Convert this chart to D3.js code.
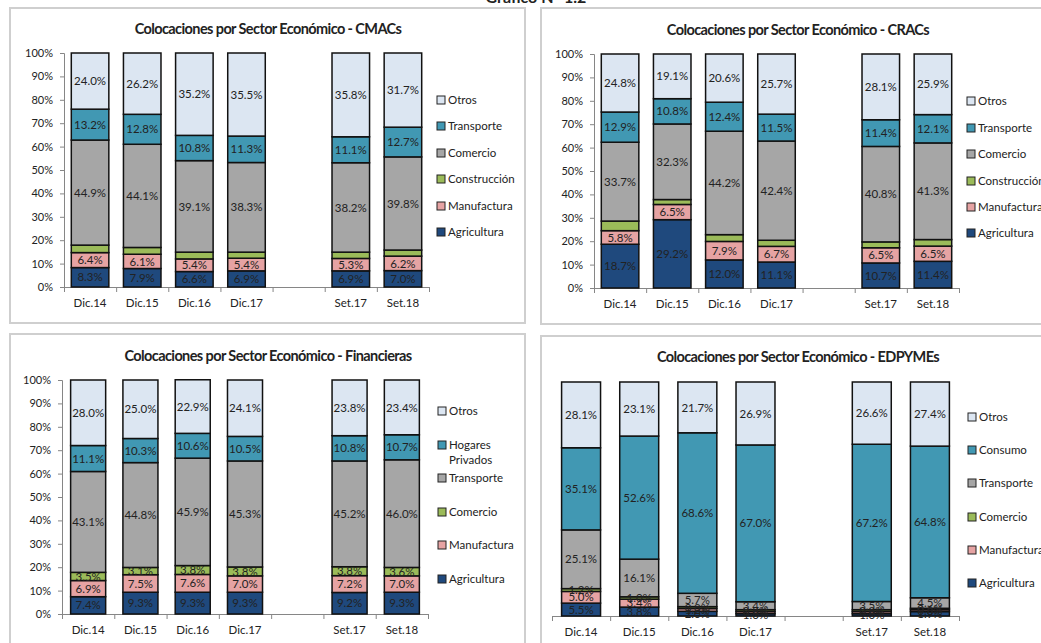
<!DOCTYPE html>
<html>
<head>
<meta charset="utf-8">
<script src="https://cdn.jsdelivr.net/npm/d3@7"></script>
<style>
  body { margin: 0; background: #fff; }
  svg text { font-family: Lato, "Open Sans", sans-serif; fill: #222; }
</style>
</head>
<body>
<svg id="the_chart" width="1041" height="643"></svg>
<script>
// periods (the empty slot is the gap between Dic.17 and Set.17)
var periods = ["Dic.14", "Dic.15", "Dic.16", "Dic.17", "Set.17", "Set.18"];
var slots = ["Dic.14", "Dic.15", "Dic.16", "Dic.17", "gap", "Set.17", "Set.18"];

// CMACs
var cmacAgricultura = [8.3, 7.9, 6.6, 6.9, 6.9, 7.0];
var cmacManufactura = [6.4, 6.1, 5.4, 5.4, 5.3, 6.2];
var cmacConstruccion = [3.2, 2.9, 2.9, 2.6, 2.7, 2.6];
var cmacComercio = [44.9, 44.1, 39.1, 38.3, 38.2, 39.8];
var cmacTransporte = [13.2, 12.8, 10.8, 11.3, 11.1, 12.7];
var cmacOtros = [24.0, 26.2, 35.2, 35.5, 35.8, 31.7];

// CRACs
var cracAgricultura = [18.7, 29.2, 12.0, 11.1, 10.7, 11.4];
var cracManufactura = [5.8, 6.5, 7.9, 6.7, 6.5, 6.5];
var cracConstruccion = [4.1, 2.1, 2.9, 2.6, 2.5, 2.8];
var cracComercio = [33.7, 32.3, 44.2, 42.4, 40.8, 41.3];
var cracTransporte = [12.9, 10.8, 12.4, 11.5, 11.4, 12.1];
var cracOtros = [24.8, 19.1, 20.6, 25.7, 28.1, 25.9];

// Financieras
var finAgricultura = [7.4, 9.3, 9.3, 9.3, 9.2, 9.3];
var finManufactura = [6.9, 7.5, 7.6, 7.0, 7.2, 7.0];
var finComercio = [3.5, 3.1, 3.8, 3.8, 3.8, 3.6];
var finTransporte = [43.1, 44.8, 45.9, 45.3, 45.2, 46.0];
var finHogares = [11.1, 10.3, 10.6, 10.5, 10.8, 10.7];
var finOtros = [28.0, 25.0, 22.9, 24.1, 23.8, 23.4];

// EDPYMEs
var edpAgricultura = [5.5, 3.8, 2.0, 1.0, 1.0, 1.9];
var edpManufactura = [5.0, 3.4, 1.2, 0.9, 0.9, 0.8];
var edpComercio = [1.2, 1.0, 0.8, 0.8, 0.8, 0.6];
var edpTransporte = [25.1, 16.1, 5.7, 3.4, 3.5, 4.5];
var edpConsumo = [35.1, 52.6, 68.6, 67.0, 67.2, 64.8];
var edpOtros = [28.1, 23.1, 21.7, 26.9, 26.6, 27.4];

var colors = ["#1f497d", "#e6a3a3", "#9bbb59", "#a6a6a6", "#4198b3", "#dce6f2"];

var svg = d3.select("#the_chart");

// panel frames
var frames = [[10, 8, 515, 315], [541, 8, 520, 316], [10, 334, 515, 320], [541, 336, 520, 320]];
svg.selectAll("rect.frame")
    .data(frames)
    .enter().append("rect")
    .attr("class", "frame")
    .attr("x", function(d) { return d[0]; })
    .attr("y", function(d) { return d[1]; })
    .attr("width", function(d) { return d[2]; })
    .attr("height", function(d) { return d[3]; })
    .attr("fill", "none")
    .attr("stroke", "#cfcfcf")
    .attr("stroke-width", 2);

svg.append("text")
    .attr("x", 536).attr("y", 3)
    .attr("text-anchor", "middle")
    .style("font-weight", 700).style("font-size", "16px")
    .text("Gráfico N° 1.2");

function drawPanel(cfg) {
    var g = svg.append("g");
    var keys = cfg.names;
    var rows = periods.map(function(p, i) {
        var r = {period: p};
        keys.forEach(function(k, j) { r[k] = cfg.values[j][i] / 100; });
        return r;
    });
    var stacked = d3.stack().keys(keys)(rows);

    var x = d3.scaleBand().domain(slots)
        .range([cfg.x0, cfg.x1])
        .paddingInner(1 - cfg.barRatio)
        .paddingOuter((1 - cfg.barRatio) / 2);
    var y = d3.scaleLinear().domain([0, 1]).range([cfg.y0, cfg.y1]);

    g.append("text")
        .attr("x", cfg.titleX).attr("y", cfg.titleY)
        .attr("text-anchor", "middle")
        .style("font-weight", 700).style("font-size", "14.5px")
        .style("letter-spacing", "-0.6px")
        .text(cfg.title);

    if (cfg.yAxis) {
        var yaxis = d3.axisLeft(y)
            .tickValues(d3.range(0, 1.01, 0.1))
            .tickFormat(d3.format(".0%"))
            .tickSize(4).tickPadding(7);
        var ya = g.append("g")
            .attr("transform", "translate(" + cfg.x0 + ",0)")
            .call(yaxis);
        ya.selectAll("path, line").attr("stroke", "#868686");
        ya.selectAll("text").style("font-size", "11px").style("font-family", "Lato").attr("fill", "#222");
    }

    // boundary ticks on the category axis
    var bscale = d3.scaleLinear().domain([0, slots.length]).range([cfg.x0, cfg.x1]);
    var xb = g.append("g")
        .attr("transform", "translate(0," + cfg.y0 + ")")
        .call(d3.axisBottom(bscale).ticks(slots.length).tickFormat("").tickSize(5).tickSizeOuter(5));
    xb.selectAll("path, line").attr("stroke", "#868686");

    var xl = g.append("g")
        .attr("transform", "translate(0," + cfg.y0 + ")")
        .call(d3.axisBottom(x).tickSize(0).tickPadding(12)
            .tickFormat(function(d) { return d == "gap" ? "" : d; }));
    xl.select(".domain").remove();
    xl.selectAll("text").style("font-size", "11.5px").style("font-family", "Lato").attr("fill", "#222");

    stacked.forEach(function(layer, j) {
        var lg = g.append("g");
        lg.selectAll("rect")
            .data(layer)
            .enter().append("rect")
            .attr("x", function(d) { return x(d.data.period); })
            .attr("width", x.bandwidth())
            .attr("y", function(d) { return y(d[1]); })
            .attr("height", function(d) { return y(d[0]) - y(d[1]); })
            .attr("fill", colors[cfg.colorIdx[j]])
            .attr("stroke", "#111")
            .attr("stroke-width", 1.5);
    });
    stacked.forEach(function(layer, j) {
        if (!cfg.labels[j]) return;
        g.append("g").selectAll("text")
            .data(layer)
            .enter().append("text")
            .attr("x", function(d) { return x(d.data.period) + x.bandwidth() / 2; })
            .attr("y", function(d) { return (y(d[0]) + y(d[1])) / 2; })
            .attr("dy", "0.36em")
            .attr("text-anchor", "middle")
            .style("font-size", "11.5px")
            .text(function(d) { return d3.format(".1f")((d[1] - d[0]) * 100) + "%"; });
    });

    // legend, top to bottom
    var leg = g.append("g");
    cfg.legendY.forEach(function(ly, i) {
        var j = keys.length - 1 - i;
        leg.append("rect")
            .attr("x", cfg.legendX).attr("y", ly - 4)
            .attr("width", 8).attr("height", 8)
            .attr("fill", colors[cfg.colorIdx[j]])
            .attr("stroke", "#222").attr("stroke-width", 1);
        var t = leg.append("text")
            .attr("x", cfg.legendX + 11).attr("y", ly)
            .attr("dy", "0.36em")
            .style("font-size", "11.5px");
        var parts = cfg.legendNames[j].split("\n");
        parts.forEach(function(p, k) {
            t.append("tspan").attr("x", cfg.legendX + 11).attr("dy", k == 0 ? "0.36em" : "1.3em").text(p);
        });
    });
}

drawPanel({
    title: "Colocaciones por Sector Económico - CMACs", titleX: 268, titleY: 34,
    x0: 64, x1: 429, y0: 287, y1: 53, barRatio: 0.72, yAxis: true,
    names: ["Agricultura", "Manufactura", "Construcción", "Comercio", "Transporte", "Otros"],
    legendNames: ["Agricultura", "Manufactura", "Construcción", "Comercio", "Transporte", "Otros"],
    values: [cmacAgricultura, cmacManufactura, cmacConstruccion, cmacComercio, cmacTransporte, cmacOtros],
    colorIdx: [0, 1, 2, 3, 4, 5],
    labels: [true, true, false, true, true, true],
    legendX: 437, legendY: [100, 126, 153, 179, 206, 232]
});

drawPanel({
    title: "Colocaciones por Sector Económico - CRACs", titleX: 798, titleY: 35,
    x0: 594, x1: 959, y0: 288, y1: 54, barRatio: 0.72, yAxis: true,
    names: ["Agricultura", "Manufactura", "Construcción", "Comercio", "Transporte", "Otros"],
    legendNames: ["Agricultura", "Manufactura", "Construcción", "Comercio", "Transporte", "Otros"],
    values: [cracAgricultura, cracManufactura, cracConstruccion, cracComercio, cracTransporte, cracOtros],
    colorIdx: [0, 1, 2, 3, 4, 5],
    labels: [true, true, false, true, true, true],
    legendX: 967, legendY: [101, 128, 154, 181, 207, 233]
});

drawPanel({
    title: "Colocaciones por Sector Económico - Financieras", titleX: 268, titleY: 361,
    x0: 62, x1: 428, y0: 614, y1: 380, barRatio: 0.67, yAxis: true,
    names: ["Agricultura", "Manufactura", "Comercio", "Transporte", "Hogares", "Otros"],
    legendNames: ["Agricultura", "Manufactura", "Comercio", "Transporte", "Hogares\nPrivados", "Otros"],
    values: [finAgricultura, finManufactura, finComercio, finTransporte, finHogares, finOtros],
    colorIdx: [0, 1, 2, 3, 4, 5],
    labels: [true, true, true, true, true, true],
    legendX: 438, legendY: [411, 445, 478, 512, 545, 579]
});

drawPanel({
    title: "Colocaciones por Sector Económico - EDPYMEs", titleX: 798, titleY: 362,
    x0: 552, x1: 959, y0: 616, y1: 382, barRatio: 0.67, yAxis: false,
    names: ["Agricultura", "Manufactura", "Comercio", "Transporte", "Consumo", "Otros"],
    legendNames: ["Agricultura", "Manufactura", "Comercio", "Transporte", "Consumo", "Otros"],
    values: [edpAgricultura, edpManufactura, edpComercio, edpTransporte, edpConsumo, edpOtros],
    colorIdx: [0, 1, 2, 3, 4, 5],
    labels: [true, true, true, true, true, true],
    legendX: 968, legendY: [417, 450, 483, 517, 550, 583]
});
</script>
</body>
</html>
